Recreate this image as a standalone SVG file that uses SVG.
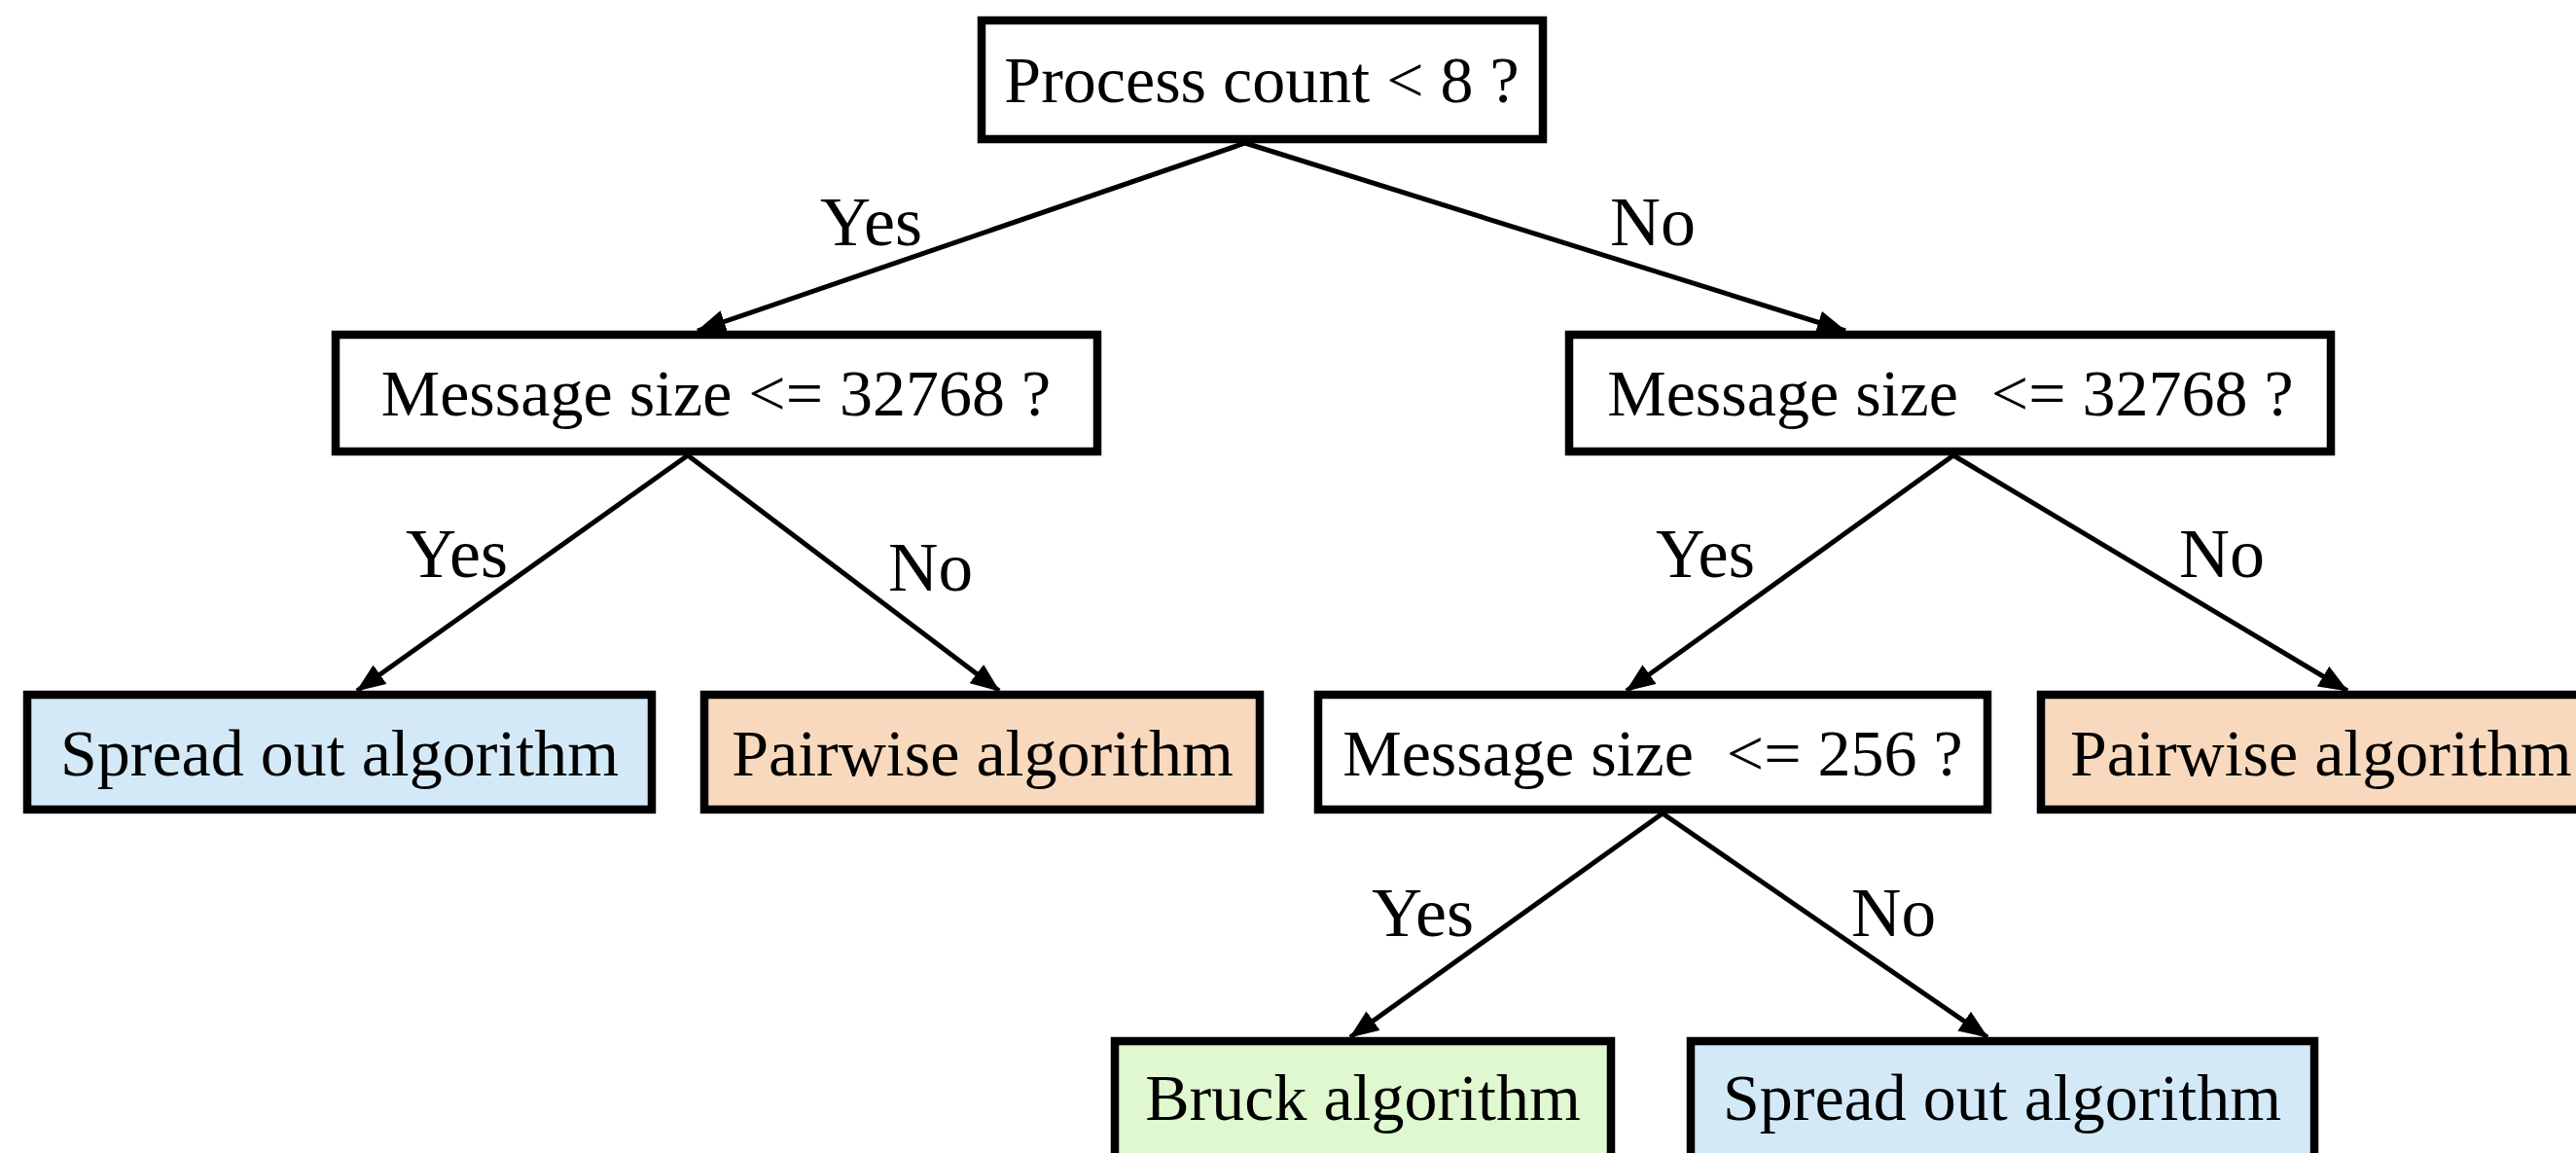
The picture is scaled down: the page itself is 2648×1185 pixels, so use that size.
<svg xmlns="http://www.w3.org/2000/svg" width="2648" height="1185" viewBox="0 0 2648 1185">
  <style>
    .box { stroke: #000; stroke-width: 8.5; }
    .q { fill: #fff; }
    .blue { fill: #d3e9f8; }
    .peach { fill: #f8d9bd; }
    .green { fill: #dff8cf; }
    .t { font-family: "Liberation Serif", "Times New Roman", serif; font-size: 68px; fill: #000; white-space: pre; }
    .mid { text-anchor: middle; }
    .lbl { font-family: "Liberation Serif", "Times New Roman", serif; font-size: 72px; fill: #000; }
    .edge { stroke: #000; stroke-width: 5; fill: none; marker-end: url(#arrow); }
  </style>
  <defs>
    <marker id="arrow" markerUnits="userSpaceOnUse" markerWidth="30" markerHeight="24" refX="29" refY="12" orient="auto">
      <path d="M0,0 L30,12 L0,24 Z" fill="#000"/>
    </marker>
  </defs>
  <rect width="2648" height="1185" fill="#fff"/>

  <!-- connectors -->
  <g id="connectors">
    <line class="edge" x1="1280" y1="147" x2="717" y2="340"/>
    <line class="edge" x1="1280" y1="147" x2="1897" y2="340"/>
    <line class="edge" x1="707" y1="468" x2="367" y2="710"/>
    <line class="edge" x1="707" y1="468" x2="1027" y2="710"/>
    <line class="edge" x1="2008" y1="468" x2="1672" y2="710"/>
    <line class="edge" x1="2008" y1="468" x2="2413" y2="710"/>
    <line class="edge" x1="1709" y1="836" x2="1388" y2="1066"/>
    <line class="edge" x1="1709" y1="836" x2="2043" y2="1066"/>
    <text class="lbl" x="843" y="252" textLength="105" lengthAdjust="spacingAndGlyphs">Yes</text>
    <text class="lbl" x="1655" y="252" textLength="88" lengthAdjust="spacingAndGlyphs">No</text>
    <text class="lbl" x="417" y="593" textLength="105" lengthAdjust="spacingAndGlyphs">Yes</text>
    <text class="lbl" x="913" y="607" textLength="87" lengthAdjust="spacingAndGlyphs">No</text>
    <text class="lbl" x="1702" y="593" textLength="102" lengthAdjust="spacingAndGlyphs">Yes</text>
    <text class="lbl" x="2240" y="593" textLength="88" lengthAdjust="spacingAndGlyphs">No</text>
    <text class="lbl" x="1410" y="962" textLength="105" lengthAdjust="spacingAndGlyphs">Yes</text>
    <text class="lbl" x="1903" y="962" textLength="87" lengthAdjust="spacingAndGlyphs">No</text>
  </g>

  <g id="process-count">
    <rect class="box q" x="1009" y="21" width="577" height="122"/>
    <text class="t mid" x="1297" y="105">Process count &lt; 8 ?</text>
  </g>
  <g id="msg-size-small-procs">
    <rect class="box q" x="345" y="344" width="783" height="120"/>
    <text class="t mid" x="736" y="427">Message size &lt;= 32768 ?</text>
  </g>
  <g id="msg-size-large-procs">
    <rect class="box q" x="1613" y="344" width="783" height="120"/>
    <text class="t mid" x="2005" y="427">Message size  &lt;= 32768 ?</text>
  </g>
  <g id="spread-out-1">
    <rect class="box blue" x="28" y="714" width="642" height="118"/>
    <text class="t mid" x="349" y="797">Spread out algorithm</text>
  </g>
  <g id="pairwise-1">
    <rect class="box peach" x="724" y="714" width="571" height="118"/>
    <text class="t mid" x="1010" y="797">Pairwise algorithm</text>
  </g>
  <g id="msg-size-256">
    <rect class="box q" x="1355" y="714" width="688" height="118"/>
    <text class="t mid" x="1699" y="797">Message size  &lt;= 256 ?</text>
  </g>
  <g id="pairwise-2">
    <rect class="box peach" x="2098" y="714" width="600" height="118"/>
    <text class="t" x="2128" y="797">Pairwise algorithm</text>
  </g>
  <g id="bruck">
    <rect class="box green" x="1146" y="1070" width="510" height="140"/>
    <text class="t mid" x="1401" y="1151">Bruck algorithm</text>
  </g>
  <g id="spread-out-2">
    <rect class="box blue" x="1738" y="1070" width="641" height="140"/>
    <text class="t mid" x="2058" y="1151">Spread out algorithm</text>
  </g>
</svg>
